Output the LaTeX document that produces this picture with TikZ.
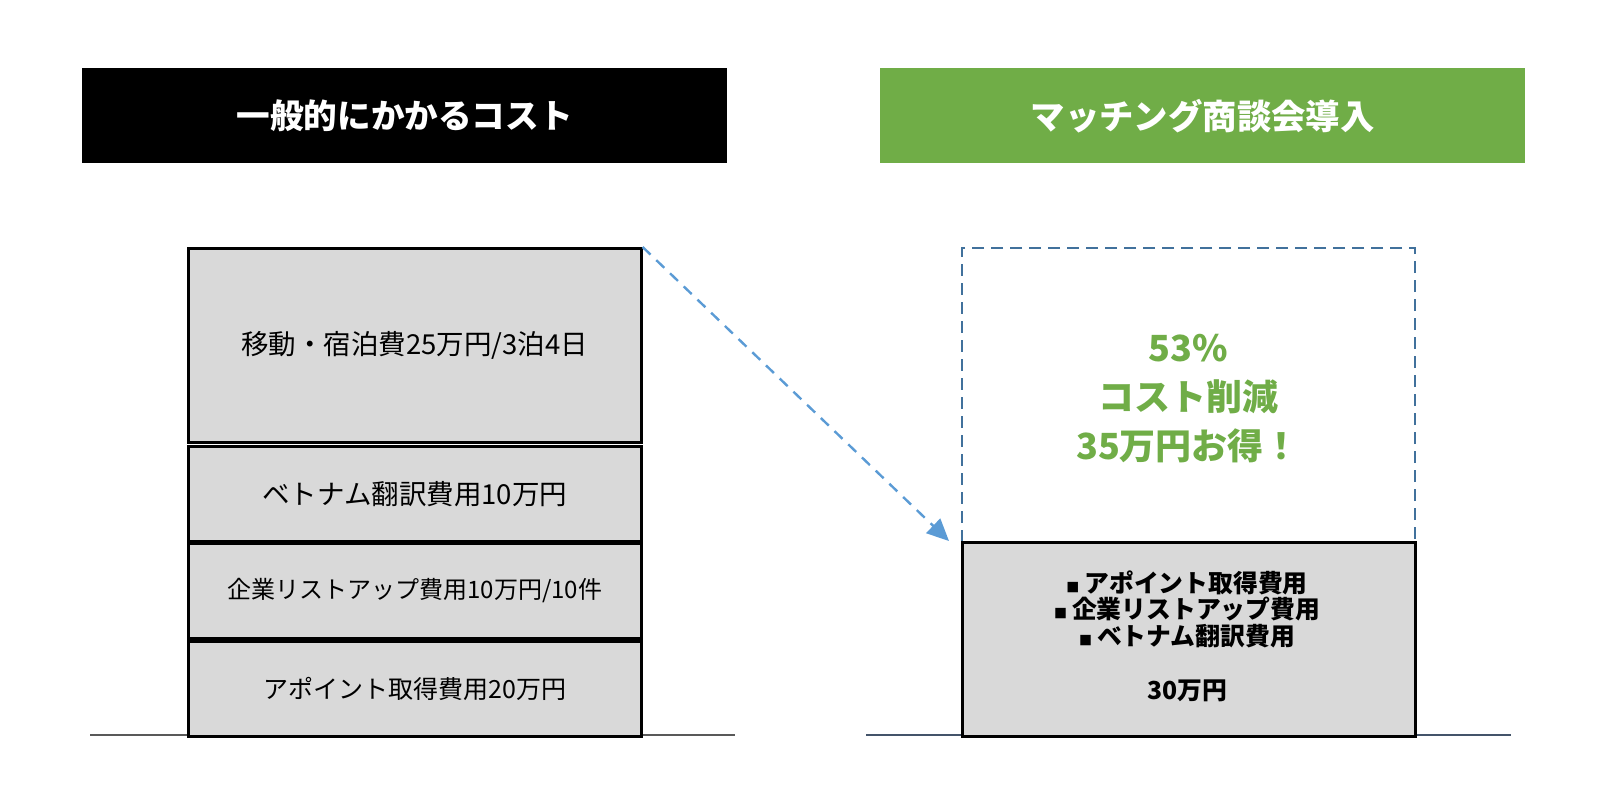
\documentclass[tikz,border=0pt]{standalone}
\usepackage{fontspec}
\newfontfamily\jp{Noto Sans CJK JP}
\usetikzlibrary{arrows.meta}
\definecolor{boxgray}{HTML}{D9D9D9}
\definecolor{hgreen}{HTML}{70AD47}
\definecolor{arrowblue}{HTML}{5B9BD5}
\definecolor{dashblue}{HTML}{41719C}
\definecolor{lineL}{HTML}{595959}
\definecolor{lineR}{HTML}{44546A}
\begin{document}
\begin{tikzpicture}[x=1pt,y=-1pt,
  header/.style={anchor=north west, minimum width=645pt, minimum height=95pt, inner sep=0pt, text=white, font=\jp\bfseries\fontsize{33.6}{36}\selectfont},
  costbox/.style={anchor=north west, draw=black, line width=2.6pt, fill=boxgray, minimum width=453pt, inner sep=0pt, font=\jp\fontsize{25}{30}\selectfont},
  baseline/.style={line width=2pt}
]
\useasboundingbox (0,0) rectangle (1598,802);
% baselines
\coordinate (l1) at (90,735);
\coordinate (l2) at (735,735);
\coordinate (r1) at (866,735);
\coordinate (r2) at (1511,735);
\draw[baseline, lineL] (l1) -- (l2);
\draw[baseline, lineR] (r1) -- (r2);
% headers
\node[header, fill=black] (h1) at (82,68) {一般的にかかるコスト};
\node[header, fill=hgreen, font=\jp\bfseries\fontsize{34.4}{36}\selectfont] (h2) at (880,68) {マッチング商談会導入};
% left stack
\node[costbox, minimum height=194pt, font=\jp\fontsize{27.5}{30}\selectfont] (b1) at (187,247) {移動・宿泊費25万円/3泊4日};
\node[costbox, minimum height=95pt, font=\jp\fontsize{27.5}{30}\selectfont] (b2) at (187,445) {ベトナム翻訳費用10万円};
\node[costbox, minimum height=95pt, font=\jp\fontsize{24}{28}\selectfont] (b3) at (187,542) {企業リストアップ費用10万円/10件};
\node[costbox, minimum height=95pt] (b4) at (187,640) {アポイント取得費用20万円};
% right
\node[anchor=north west, draw=dashblue, dashed, dash pattern=on 12pt off 7pt, line width=2.4pt, minimum width=453pt, minimum height=294pt, inner sep=0pt] (d1) at (961,247) {};
\node[anchor=north west, draw=black, line width=2.6pt, fill=boxgray, minimum width=453pt, minimum height=194pt, inner sep=0pt] (g1) at (961,541) {};
\node[align=center, font=\jp\bfseries\fontsize{24.8}{26.6}\selectfont] (g1t) at (1187,636) {{\fontsize{13}{13}\selectfont ■}\hspace{5pt}アポイント取得費用\\{\fontsize{13}{13}\selectfont ■}\hspace{5pt}企業リストアップ費用\\{\fontsize{13}{13}\selectfont ■}\hspace{5pt}ベトナム翻訳費用\\[27.5pt]30万円};
\node[align=center, text=hgreen, font=\jp\bfseries\fontsize{36}{49}\selectfont] (gt) at (1188,399) {53\%\\コスト削減\\35万円お得！};
% arrow
\coordinate (aend) at ([xshift=-12pt]g1.north west);
\draw[arrowblue, line width=2.4pt, dash pattern=on 11pt off 8pt, -{Triangle[length=22pt,width=20pt]}] (b1.north east) -- (aend);
\end{tikzpicture}
\end{document}
